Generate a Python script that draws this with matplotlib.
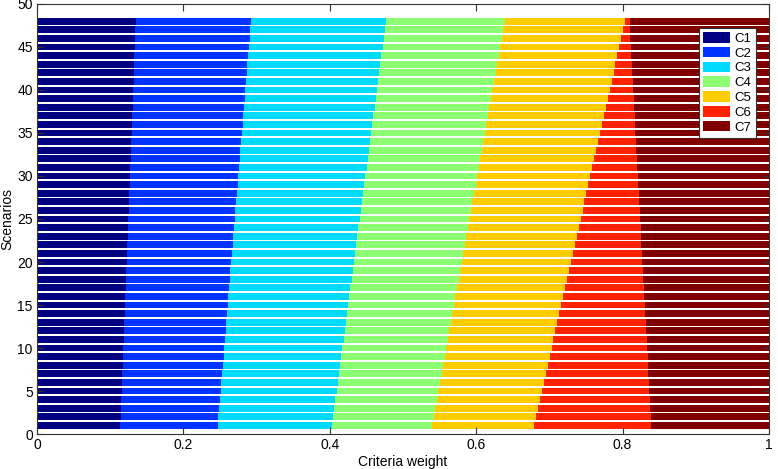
import matplotlib
matplotlib.use("Agg")
import matplotlib.pyplot as plt
import numpy as np

plt.rcParams["font.family"] = ["Liberation Sans", "DejaVu Sans"]

criteria = ["C1", "C2", "C3", "C4", "C5", "C6", "C7"]
scenarios = list(range(1, 49))

c1 = [0.1140, 0.1144, 0.1149, 0.1153, 0.1158, 0.1162, 0.1167, 0.1171, 0.1176, 0.1180,
      0.1185, 0.1189, 0.1193, 0.1198, 0.1202, 0.1207, 0.1211, 0.1216, 0.1220, 0.1225,
      0.1229, 0.1233, 0.1238, 0.1242, 0.1247, 0.1251, 0.1256, 0.1260, 0.1265, 0.1269,
      0.1274, 0.1278, 0.1282, 0.1287, 0.1291, 0.1296, 0.1300, 0.1305, 0.1309, 0.1314,
      0.1318, 0.1322, 0.1327, 0.1331, 0.1336, 0.1340, 0.1345, 0.1349]
c2 = [0.1330, 0.1335, 0.1340, 0.1346, 0.1351, 0.1356, 0.1361, 0.1366, 0.1372, 0.1377,
      0.1382, 0.1387, 0.1392, 0.1397, 0.1403, 0.1408, 0.1413, 0.1418, 0.1423, 0.1429,
      0.1434, 0.1439, 0.1444, 0.1449, 0.1455, 0.1460, 0.1465, 0.1470, 0.1475, 0.1481,
      0.1486, 0.1491, 0.1496, 0.1501, 0.1506, 0.1512, 0.1517, 0.1522, 0.1527, 0.1532,
      0.1538, 0.1543, 0.1548, 0.1553, 0.1558, 0.1564, 0.1569, 0.1574]
c3 = [0.1560, 0.1566, 0.1572, 0.1578, 0.1584, 0.1590, 0.1597, 0.1603, 0.1609, 0.1615,
      0.1621, 0.1627, 0.1633, 0.1639, 0.1645, 0.1651, 0.1657, 0.1664, 0.1670, 0.1676,
      0.1682, 0.1688, 0.1694, 0.1700, 0.1706, 0.1712, 0.1718, 0.1724, 0.1731, 0.1737,
      0.1743, 0.1749, 0.1755, 0.1761, 0.1767, 0.1773, 0.1779, 0.1785, 0.1791, 0.1798,
      0.1804, 0.1810, 0.1816, 0.1822, 0.1828, 0.1834, 0.1840, 0.1846]
c4 = [0.1370, 0.1375, 0.1381, 0.1386, 0.1391, 0.1397, 0.1402, 0.1407, 0.1413, 0.1418,
      0.1423, 0.1429, 0.1434, 0.1439, 0.1445, 0.1450, 0.1455, 0.1461, 0.1466, 0.1471,
      0.1477, 0.1482, 0.1487, 0.1493, 0.1498, 0.1504, 0.1509, 0.1514, 0.1520, 0.1525,
      0.1530, 0.1536, 0.1541, 0.1546, 0.1552, 0.1557, 0.1562, 0.1568, 0.1573, 0.1578,
      0.1584, 0.1589, 0.1594, 0.1600, 0.1605, 0.1610, 0.1616, 0.1621]
c5 = [0.1390, 0.1395, 0.1401, 0.1406, 0.1412, 0.1417, 0.1423, 0.1428, 0.1433, 0.1439,
      0.1444, 0.1450, 0.1455, 0.1460, 0.1466, 0.1471, 0.1477, 0.1482, 0.1488, 0.1493,
      0.1498, 0.1504, 0.1509, 0.1515, 0.1520, 0.1526, 0.1531, 0.1536, 0.1542, 0.1547,
      0.1553, 0.1558, 0.1563, 0.1569, 0.1574, 0.1580, 0.1585, 0.1591, 0.1596, 0.1601,
      0.1607, 0.1612, 0.1618, 0.1623, 0.1628, 0.1634, 0.1639, 0.1645]
c6 = [0.1600, 0.1567, 0.1534, 0.1502, 0.1469, 0.1436, 0.1403, 0.1371, 0.1338, 0.1305,
      0.1272, 0.1240, 0.1207, 0.1174, 0.1141, 0.1108, 0.1076, 0.1043, 0.1010, 0.0977,
      0.0945, 0.0912, 0.0879, 0.0846, 0.0814, 0.0781, 0.0748, 0.0715, 0.0682, 0.0650,
      0.0617, 0.0584, 0.0551, 0.0519, 0.0486, 0.0453, 0.0420, 0.0388, 0.0355, 0.0322,
      0.0289, 0.0256, 0.0224, 0.0191, 0.0158, 0.0125, 0.0093, 0.0060]
c7 = [0.1610, 0.1616, 0.1623, 0.1629, 0.1635, 0.1641, 0.1648, 0.1654, 0.1660, 0.1667,
      0.1673, 0.1679, 0.1685, 0.1692, 0.1698, 0.1704, 0.1710, 0.1717, 0.1723, 0.1729,
      0.1736, 0.1742, 0.1748, 0.1754, 0.1761, 0.1767, 0.1773, 0.1780, 0.1786, 0.1792,
      0.1798, 0.1805, 0.1811, 0.1817, 0.1823, 0.1830, 0.1836, 0.1842, 0.1849, 0.1855,
      0.1861, 0.1867, 0.1874, 0.1880, 0.1886, 0.1893, 0.1899, 0.1905]

colors = ["#000080", "#0033ff", "#00dbff", "#8cff73", "#ffcc00", "#ff2200", "#800000"]

fig = plt.figure(figsize=(7.78, 4.69), dpi=100)
ax = fig.add_axes([0.0476, 0.0746, 0.9408, 0.9169])

# stacked horizontal bars, one row per scenario
left = np.zeros(len(scenarios))
for name, vals, col in zip(criteria, [c1, c2, c3, c4, c5, c6, c7], colors):
    ax.barh(scenarios, vals, left=left, height=0.8, color=col, edgecolor="none", label=name)
    left = left + np.array(vals)

ax.set_xlim(0, 1)
ax.set_ylim(0, 50)
ax.set_xticks([0, 0.2, 0.4, 0.6, 0.8, 1])
ax.set_xticklabels(["0", "0.2", "0.4", "0.6", "0.8", "1"])
ax.set_yticks(range(0, 51, 5))
ax.tick_params(direction="in", length=5, width=0.8, top=True, right=True,
               labelsize=10, color="#333333", pad=3)
for s in ax.spines.values():
    s.set_color("#333333")
    s.set_linewidth(0.8)

ax.set_xlabel("Criteria weight", fontsize=10, labelpad=2)
ax.set_ylabel("Scenarios", fontsize=10, labelpad=2)

leg = ax.legend(loc="upper right", bbox_to_anchor=(0.982, 0.944), borderaxespad=0,
                fontsize=9.5, frameon=True, fancybox=False, framealpha=1,
                handlelength=2.1, handleheight=0.85, labelspacing=0.15,
                handletextpad=0.35, borderpad=0.3)
leg.get_frame().set_edgecolor("#333333")
leg.get_frame().set_linewidth(0.8)

fig.savefig("out.png", dpi=100)
